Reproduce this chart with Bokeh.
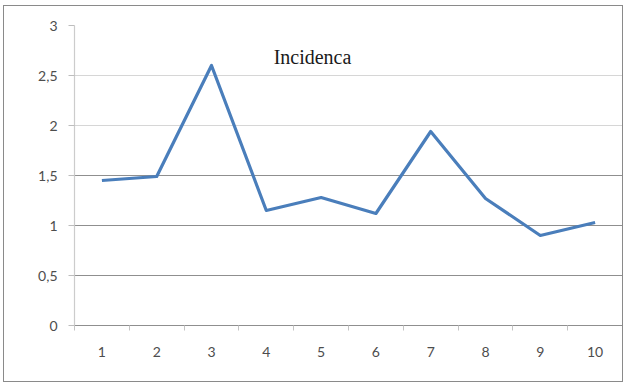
from bokeh.plotting import figure
from bokeh.models import FixedTicker, Grid, Label, Range1d, InlineStyleSheet
from bokeh.embed import file_html
from bokeh.resources import INLINE

# Incidence per period
periods = [1, 2, 3, 4, 5, 6, 7, 8, 9, 10]
incidence = [1.45, 1.49, 2.60, 1.15, 1.28, 1.12, 1.94, 1.27, 0.90, 1.03]
y_ticks = [0, 0.5, 1, 1.5, 2, 2.5, 3]
y_tick_labels = {0: "0", 0.5: "0,5", 1: "1", 1.5: "1,5", 2: "2", 2.5: "2,5", 3: "3"}
title_text = "Incidenca"

p = figure(width=624, height=383, output_backend="svg", toolbar_location=None,
           x_range=Range1d(0.5, len(periods) + 0.5), y_range=Range1d(0, 3),
           min_border_left=74, min_border_right=2, min_border_top=25,
           min_border_bottom=58)
p.outline_line_color = None
p.background_fill_color = "white"
p.border_fill_color = "white"

# thin frame around the whole chart area
p.stylesheets = [InlineStyleSheet(css="""
:host { position: relative; }
:host::after {
  content: "";
  position: absolute;
  left: 3px; top: 5px; right: 1px; bottom: 1px;
  border: 1.5px solid #8a8a8a;
  pointer-events: none;
  z-index: 10;
}
""")]

# gridlines: lighter upper band, darker lower band
p.xgrid.visible = False
p.ygrid.visible = False
upper = [t for t in y_ticks if t >= 2]
lower = [t for t in y_ticks if 0 < t < 2]
p.add_layout(Grid(dimension=1, ticker=FixedTicker(ticks=upper),
                  grid_line_color="#d6d6d6", grid_line_width=1.2))
p.add_layout(Grid(dimension=1, ticker=FixedTicker(ticks=lower),
                  grid_line_color="#8f8f8f", grid_line_width=1.2))

# x axis: labels at category centres, ticks at category boundaries
p.xaxis.ticker = FixedTicker(ticks=periods,
                             minor_ticks=[i + 0.5 for i in range(0, len(periods) + 1)])
p.xaxis.major_tick_line_color = None
p.xaxis.major_tick_out = 0
p.xaxis.major_tick_in = 0
p.xaxis.minor_tick_out = 5
p.xaxis.minor_tick_in = 0
p.xaxis.minor_tick_line_color = "#c4c4c4"
p.xaxis.axis_line_color = "#8f8f8f"
p.xaxis.axis_line_width = 1.2
p.xaxis.major_label_standoff = 16

# y axis
p.yaxis.ticker = FixedTicker(ticks=y_ticks, minor_ticks=[])
p.yaxis.major_label_overrides = y_tick_labels
p.yaxis.major_tick_out = 6
p.yaxis.major_tick_in = 0
p.yaxis.major_tick_line_color = "#bdbdbd"
p.yaxis.axis_line_color = "#cccccc"
p.yaxis.axis_line_width = 1.2
p.yaxis.major_label_standoff = 11

for ax in (p.xaxis, p.yaxis):
    ax.major_label_text_font = "Lato"
    ax.major_label_text_font_size = "14px"
    ax.major_label_text_color = "#4d4d4d"

p.line(periods, incidence, line_color="#4a7ebb", line_width=3.2,
       line_join="round")

p.add_layout(Label(x=238, y=269, x_units="screen", y_units="screen",
                   text=title_text, text_align="center",
                   text_baseline="alphabetic", text_font="Liberation Serif",
                   text_font_size="20px", text_color="#1a1a1a"))

open("out.html", "w").write(file_html(p, INLINE))
